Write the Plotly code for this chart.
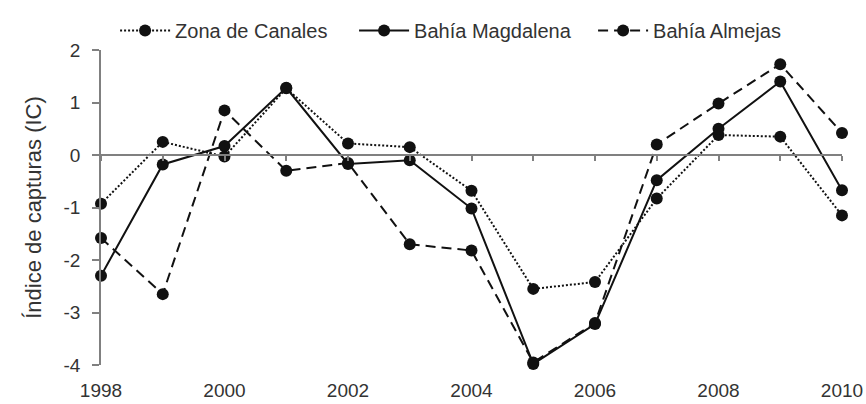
import plotly.graph_objects as go

years = list(range(1998, 2011))
zona_canales = [-0.93, 0.25, -0.03, 1.27, 0.22, 0.15, -0.68, -2.55, -2.42, -0.83, 0.38, 0.35, -1.15]
bahia_magdalena = [-2.30, -0.18, 0.17, 1.28, -0.17, -0.10, -1.02, -3.98, -3.22, -0.48, 0.50, 1.40, -0.67]
bahia_almejas = [-1.58, -2.65, 0.85, -0.30, -0.15, -1.70, -1.82, -3.95, -3.20, 0.20, 0.98, 1.73, 0.42]

x_tick_years = years[::2]
y_ticks = [-4, -3, -2, -1, 0, 1, 2]

series = [
    ("Zona de Canales", zona_canales, "2px,2px"),
    ("Bahía Magdalena", bahia_magdalena, "solid"),
    ("Bahía Almejas", bahia_almejas, "10px,6px"),
]

FONT = "Liberation Sans, Arial, sans-serif"
TEXT = "#333333"
AXIS_GREY = "#808080"

fig = go.Figure()
for name, vals, dash in series:
    fig.add_trace(go.Scatter(
        x=years, y=vals, name=name, mode="lines+markers",
        line=dict(color="#111111", width=2, dash=dash),
        marker=dict(color="#111111", size=12, symbol="circle"),
        cliponaxis=False,
    ))

# invisible trace that carries the year-tick axis drawn along y = 0
fig.add_trace(go.Scatter(x=[years[0], years[-1]], y=[0, 0], xaxis="x2", mode="lines",
                         line=dict(width=0), showlegend=False, hoverinfo="skip"))

fig.update_layout(
    width=866, height=404,
    margin=dict(l=101, r=24, t=50, b=39, autoexpand=False),
    paper_bgcolor="white", plot_bgcolor="white",
    font=dict(family=FONT, size=19, color=TEXT),
    showlegend=True,
    legend=dict(orientation="h", x=0.019, xanchor="left", y=1.0, yanchor="bottom",
                font=dict(size=20, color=TEXT), itemwidth=50, tracegroupgap=0,
                entrywidth=174, entrywidthmode="pixels",
                bgcolor="rgba(0,0,0,0)"),
    xaxis=dict(range=[1998, 2010], tickmode="array", tickvals=x_tick_years,
               ticktext=[str(y) for y in x_tick_years], showgrid=False, zeroline=False,
               showline=False, ticks="", ticklabelstandoff=12, tickfont=dict(size=19),
               automargin=False),
    xaxis2=dict(range=[1998, 2010], overlaying="x", anchor="free", position=4/6,
                side="bottom", showline=True, linecolor=AXIS_GREY, linewidth=1.5,
                ticks="outside", ticklen=5, tickcolor=AXIS_GREY, tickwidth=1.5,
                dtick=1, tick0=1998, showticklabels=False, showgrid=False, zeroline=False),
    yaxis=dict(range=[-4, 2], tickmode="array", tickvals=y_ticks,
               ticktext=[str(v) for v in y_ticks], showgrid=False, zeroline=False,
               showline=True, linecolor=AXIS_GREY, linewidth=1.5,
               ticks="outside", ticklen=7, tickcolor=AXIS_GREY, tickwidth=1.5,
               ticklabelstandoff=8, tickfont=dict(size=19), automargin=False,
               title=dict(text="Índice de capturas (IC)", font=dict(size=22), standoff=16)),
)

fig.write_html("out.html")
